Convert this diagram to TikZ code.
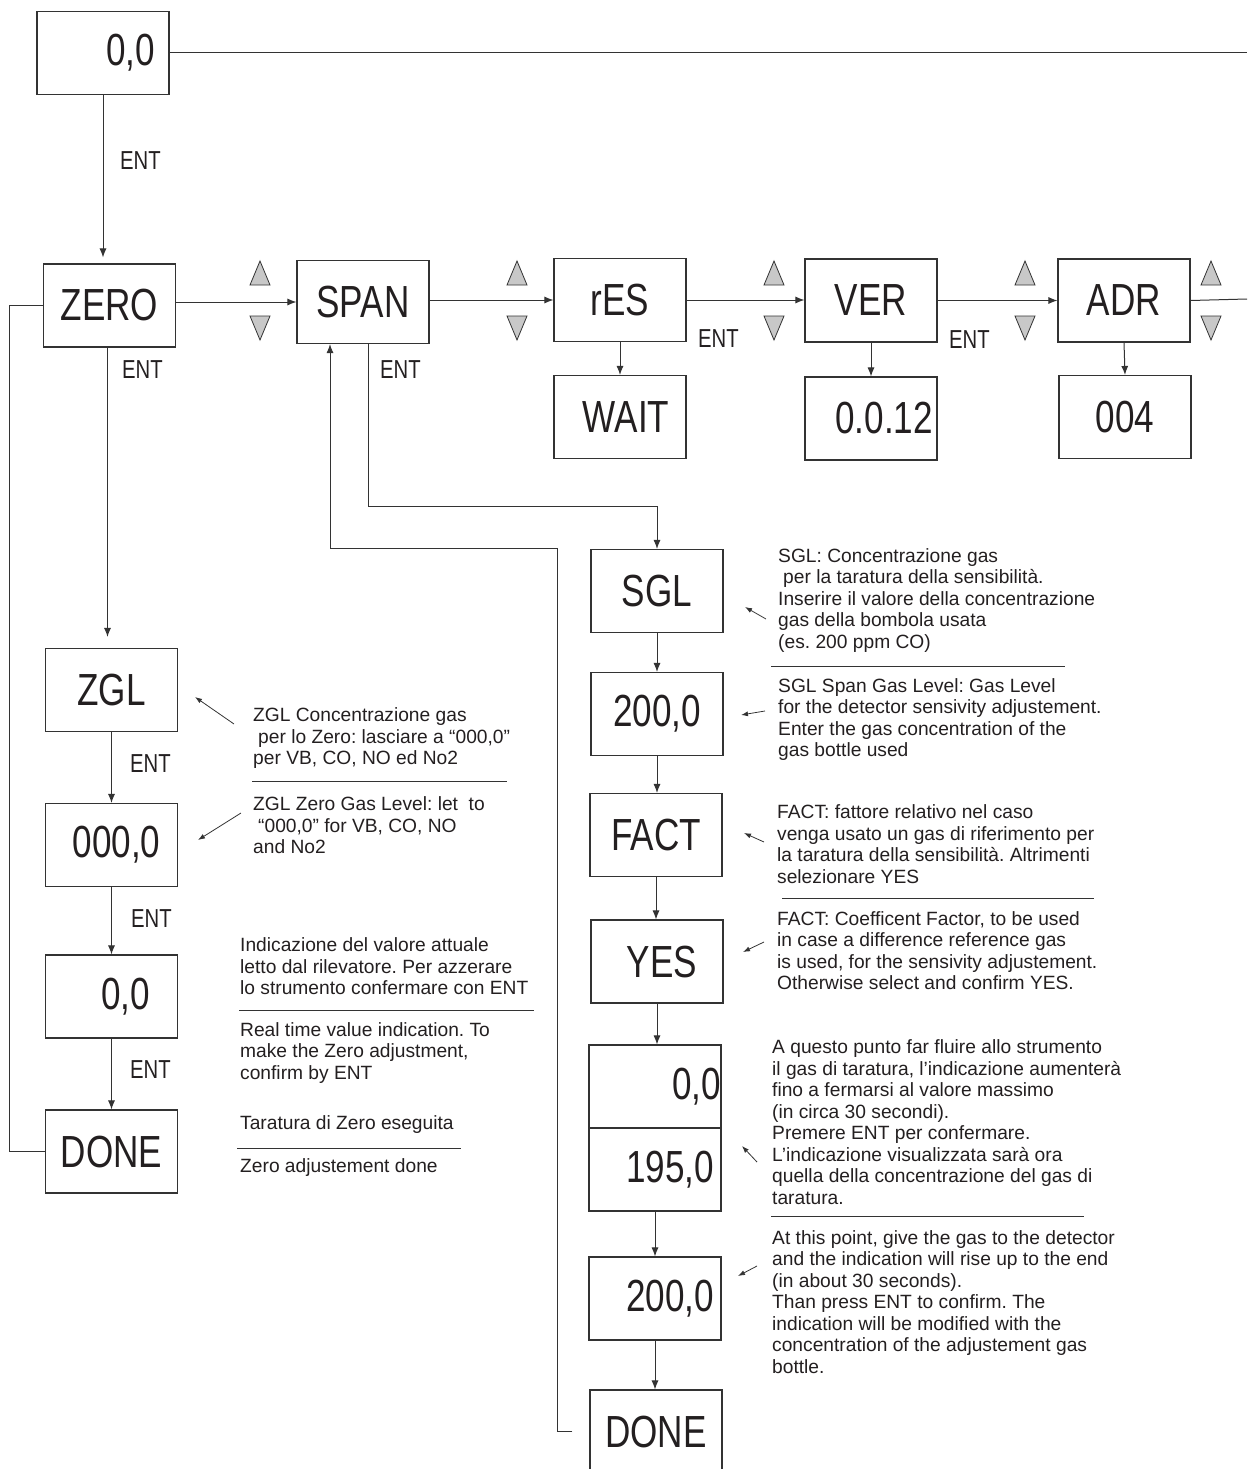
\documentclass[tikz,border=0pt]{standalone}
\usepackage{fontspec}
\setmainfont{Liberation Sans}
\newfontfamily\narrowfont[FakeStretch=0.78]{Liberation Sans}
\usetikzlibrary{arrows.meta}
\definecolor{ln}{HTML}{333333}
\definecolor{tx}{HTML}{231F20}
\definecolor{trifill}{HTML}{C8C8C8}
\frenchspacing
\begin{document}
\begin{tikzpicture}[x=1pt,y=-1pt,
  box/.style={draw=ln, line width=1.1pt, minimum width=132pt, minimum height=83pt, inner sep=0pt,
    font=\narrowfont\fontsize{45}{50}\selectfont, text=tx},
  entlbl/.style={font=\narrowfont\fontsize{26}{30}\selectfont, text=tx, anchor=west, inner sep=0pt},
  desc/.style={font=\fontsize{19.2}{21.5}\selectfont, text=tx, align=left, anchor=west, inner sep=0pt},
  conn/.style={draw=ln, line width=1pt},
  arr/.style={conn, -{Latex[length=9pt,width=7pt]}},
  note/.style={draw=ln, line width=0.8pt, -{Latex[length=7pt,width=5pt]}},
  sep/.style={draw=ln, line width=0.8pt},
  updown/.style={fill=trifill, draw=ln, line width=0.8pt, line join=miter},
]
\useasboundingbox (0,0) rectangle (1247,1469);

% ---------- boxes ----------
\node[box, text width=104pt, align=right] (top00) at (103,53) {0,0};
\node[box] (zero) at (109.5,305.5) {ZERO};
\node[box] (span) at (363,302) {SPAN};
\node[box] (res) at (620,300) {rES};
\node[box] (wait) at (620,417) {\hspace{12pt}WAIT};
\node[box] (ver) at (871,300.5) {VER};
\node[box, text width=124pt, align=right] (v0012) at (871,418.5) {0.0.12};
\node[box] (adr) at (1124,300.5) {ADR};
\node[box] (a004) at (1125,417) {004\hspace{14pt}};

\node[box] (zgl) at (111.5,690) {ZGL\hspace{12pt}};
\node[box] (z000) at (111.5,845) {\hspace{10pt}000,0};
\node[box, text width=77pt, align=right] (z00) at (111.5,996.5) {0,0};
\node[box] (zdone) at (111.5,1151.5) {DONE};

\node[box] (sgl) at (657,591) {SGL};
\node[box] (s200) at (657,714) {200,0};
\node[box] (fact) at (656,835) {FACT};
\node[box] (yes) at (657,961.5) {\hspace{10pt}YES};
\node[box, text width=132pt, align=right] (s00) at (655,1086.5) {0,0};
\node[box, text width=118pt, align=right] (s195) at (655,1169.5) {195,0};
\node[box, text width=118pt, align=right] (s200b) at (655,1298.5) {200,0};
\node[box] (sdone) at (656,1431.5) {DONE};

% ---------- up / down keys ----------
\foreach \cx in {260,517,774,1025,1211} {
  \filldraw[updown] (\cx-10,285) -- (\cx+10,285) -- (\cx,261) -- cycle;
  \filldraw[updown] (\cx-10,316) -- (\cx+10,316) -- (\cx,340) -- cycle;
}

% ---------- connectors ----------
\coordinate (topend) at (1247,53);
\draw[conn] (top00.east) -- (topend);
\draw[arr, shorten >=6pt] (top00.south) -- (top00.south |- zero.north);
\draw[arr] (zero.east |- span.west) -- (span.west);
\draw[arr] (span.east |- res.west) -- (res.west);
\draw[arr] (res.east) -- (ver.west |- res.east);
\draw[arr] (ver.east) -- (adr.west);
\coordinate (adrend) at (1247,299);
\draw[conn] (adr.east) -- (adrend);
\draw[arr] (res.south) -- (wait.north);
\draw[arr] (ver.south) -- (v0012.north);
\draw[arr] (adr.south) -- (a004.north);

\draw[arr, shorten >=11pt] ([xshift=-2pt]zero.south) -- ([xshift=-2pt]zero.south |- zgl.north);
\draw[arr] (zgl.south) -- (z000.north);
\draw[arr] (z000.south) -- (z00.north);
\draw[arr] (z00.south) -- (zdone.north);
\draw[conn] (zdone.west) -- ++(-35,0) |- (zero.west);

\draw[arr] ([xshift=5pt]span.south) -- ++(0,162) -| (sgl.north);
\draw[arr] (sgl.south) -- (s200.north);
\draw[arr] (s200.south) -- (s200.south |- fact.north);
\draw[arr] (fact.south) -- (fact.south |- yes.north);
\draw[arr] (yes.south) -- (yes.south |- s00.north);
\draw[arr] (s195.south) -- (s195.south |- s200b.north);
\draw[arr] (s200b.south) -- (s200b.south |- sdone.north);
\coordinate (spanloop) at (557,548);
\draw[arr] ([xshift=-17pt]sdone.west) -| (spanloop) -| ([xshift=-33pt]span.south);

% ---------- ENT labels ----------
\node[entlbl] (ent1) at (120,160.5) {ENT};
\node[entlbl] (ent2) at (122,370) {ENT};
\node[entlbl] (ent3) at (380,370) {ENT};
\node[entlbl] (ent4) at (698,339) {ENT};
\node[entlbl] (ent5) at (949,340) {ENT};
\node[entlbl] (ent6) at (130,764) {ENT};
\node[entlbl] (ent7) at (131,919) {ENT};
\node[entlbl] (ent8) at (130,1070) {ENT};

% ---------- descriptions ----------
\node[desc] (d1) at (253,738.5) {ZGL Concentrazione gas\\\hspace{5pt}per lo Zero: lasciare a “000,0”\\per VB, CO, NO ed No2};
\node[desc] (d2) at (253,825.5) {ZGL Zero Gas Level: let\ \ to\\\hspace{5pt}“000,0” for VB, CO, NO\\and No2};
\node[desc] (d3) at (240,966.5) {Indicazione del valore attuale\\letto dal rilevatore. Per azzerare\\lo strumento confermare con ENT};
\node[desc] (d4) at (240,1053) {Real time value indication. To\\make the Zero adjustment,\\confirm by ENT};
\node[desc] (d5) at (240,1125) {Taratura di Zero eseguita};
\node[desc] (d6) at (240,1167.5) {Zero adjustement done};

\node[desc] (d7) at (778,600.5) {SGL: Concentrazione gas\\\hspace{5pt}per la taratura della sensibilità.\\Inserire il valore della concentrazione\\gas della bombola usata\\(es. 200 ppm CO)};
\node[desc] (d8) at (778,719.5) {SGL Span Gas Level: Gas Level\\for the detector sensivity adjustement.\\Enter the gas concentration of the\\gas bottle used};
\node[desc] (d9) at (777,844) {FACT: fattore relativo nel caso\\venga usato un gas di riferimento per\\la taratura della sensibilità. Altrimenti\\selezionare YES};
\node[desc] (d10) at (777,950.5) {FACT: Coefficent Factor, to be used\\in case a difference reference gas\\is used, for the sensivity adjustement.\\Otherwise select and confirm YES.};
\node[desc] (d11) at (772,1122) {A questo punto far fluire allo strumento\\il gas di taratura, l’indicazione aumenterà\\fino a fermarsi al valore massimo\\(in circa 30 secondi).\\Premere ENT per confermare.\\L’indicazione visualizzata sarà ora\\quella della concentrazione del gas di\\taratura.};
\node[desc] (d12) at (772,1302) {At this point, give the gas to the detector\\and the indication will rise up to the end\\(in about 30 seconds).\\Than press ENT to confirm. The\\indication will be modified with the\\concentration of the adjustement gas\\bottle.};

% ---------- separators ----------
\draw[sep] (252,781) -- (507,781);
\draw[sep] (239,1010) -- (534,1010);
\draw[sep] (237,1148) -- (461,1148);
\draw[sep] (771,666) -- (1065,666);
\draw[sep] (782,898) -- (1094,898);
\draw[sep] (771,1216) -- (1084,1216);

% ---------- note arrows ----------
\coordinate (n1a) at (234,724);  \coordinate (n1b) at (195,697);
\coordinate (n2a) at (241,813);  \coordinate (n2b) at (198,840);
\coordinate (n3a) at (766,619);  \coordinate (n3b) at (745,607);
\coordinate (n4a) at (765,711);  \coordinate (n4b) at (741,715);
\coordinate (n5a) at (764,842);  \coordinate (n5b) at (744,833);
\coordinate (n6a) at (764,942);  \coordinate (n6b) at (743,952);
\coordinate (n7a) at (757,1162); \coordinate (n7b) at (742,1146);
\coordinate (n8a) at (757,1266); \coordinate (n8b) at (738,1276);
\foreach \i in {1,...,8} { \draw[note] (n\i a) -- (n\i b); }
\end{tikzpicture}
\end{document}
